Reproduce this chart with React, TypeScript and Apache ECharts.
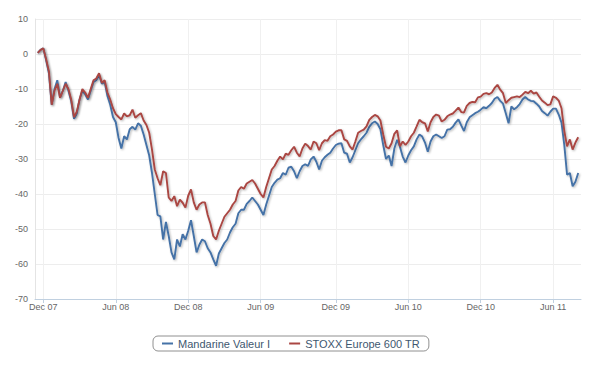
import React, { useEffect, useRef } from "react";
import * as echarts from "echarts";

// weekly observations (Friday closes), first/last category are empty padding weeks
const firstWeek = "2007-11-09";
const weekCount = 197;

const tickDates = ["2007-12-01", "2008-06-01", "2008-12-01", "2009-06-01", "2009-12-01", "2010-06-01", "2010-12-01", "2011-06-01"];
const tickLabels = ["Dec 07", "Jun 08", "Dec 08", "Jun 09", "Dec 09", "Jun 10", "Dec 10", "Jun 11"];

const yMin = -70;
const yMax = 10;
const yStep = 10;

const seriesNames = ["Mandarine Valeur I", "STOXX Europe 600 TR"];

const mandarine = [
  0.3, 1.2, 1.6, -1.8, -5.5, -14.5, -10.0, -7.5, -12.5, -10.5,
  -8.0, -10.5, -13.5, -18.5, -17.0, -13.0, -10.5, -11.5, -13.0, -10.5,
  -8.0, -7.5, -6.0, -8.5, -8.0, -12.0, -14.5, -18.0, -19.5, -24.0,
  -27.0, -23.5, -24.4, -21.5, -20.8, -21.6, -19.8, -20.5, -23.0, -26.0,
  -29.0, -34.0, -40.0, -46.0, -46.4, -53.0, -48.0, -52.0, -56.7, -58.7,
  -53.0, -55.0, -51.5, -53.0, -50.5, -47.5, -52.0, -56.7, -54.5, -53.0,
  -53.5, -55.5, -56.7, -58.7, -60.5, -57.0, -55.5, -54.0, -53.0, -51.0,
  -49.5, -48.5, -45.5, -44.5, -44.5, -42.8, -42.0, -41.0, -42.0, -43.0,
  -44.5, -46.0, -43.0, -40.5, -38.0, -36.8, -35.9, -35.5, -34.0, -34.5,
  -32.5, -32.2, -33.5, -35.5, -33.5, -32.0, -31.5, -32.0, -30.1, -29.3,
  -30.8, -33.0, -30.5, -29.5, -28.8, -28.2, -27.0, -26.0, -25.6, -25.5,
  -28.2, -28.5, -31.0, -29.5, -27.5, -25.5, -24.4, -23.5, -22.5, -20.8,
  -19.8, -19.3, -20.0, -21.5, -26.0, -30.0, -29.0, -32.0, -27.0, -24.5,
  -26.5, -29.3, -31.0, -29.0, -27.5, -26.4, -24.4, -23.0, -23.6, -25.3,
  -27.9, -25.0, -23.5, -23.0, -23.5, -24.0, -23.5, -21.6, -21.5, -20.8,
  -19.6, -18.7, -20.4, -22.0, -19.5, -18.1, -17.5, -16.9, -16.5, -15.9,
  -15.2, -15.5, -14.8, -14.0, -12.8, -12.3, -13.4, -14.2, -16.9, -19.8,
  -15.0, -15.8, -15.2, -14.3, -13.0, -12.3, -13.0, -13.4, -13.5, -14.2,
  -15.0, -16.3, -16.9, -17.6, -16.5, -15.6, -15.6, -17.3, -19.6, -26.0,
  -34.5, -34.0, -37.8, -36.5, -34.0,
];

const stoxx = [
  0.3, 1.2, 1.6, -1.5, -5.0, -14.5, -10.5, -8.5, -12.5, -10.5,
  -8.5, -10.0, -13.0, -18.0, -16.5, -13.0, -10.0, -11.0, -12.5, -10.0,
  -7.5, -7.0, -5.5, -8.2, -7.5, -11.0, -13.0, -15.5, -17.2, -18.0,
  -18.7, -17.0, -17.8, -17.5, -15.9, -18.2, -17.5, -16.9, -19.0, -20.3,
  -22.5, -27.3, -33.0, -35.5, -37.5, -33.5, -34.0, -41.0, -42.0, -40.6,
  -43.5, -41.6, -42.5, -43.9, -40.5, -38.7, -42.4, -44.5, -43.0, -42.4,
  -42.4, -46.0, -48.5, -52.0, -53.0, -50.5, -48.5, -46.5, -45.5, -44.5,
  -43.0, -42.0, -39.0, -38.0, -38.5, -37.0, -36.5, -36.0, -37.0, -38.5,
  -40.0, -41.0, -38.0, -35.5, -33.0, -32.0, -30.5, -29.3, -30.1, -28.5,
  -28.8, -27.5, -26.5, -28.2, -29.3, -27.0, -25.6, -26.3, -27.3, -25.0,
  -25.5, -27.5, -25.5, -24.6, -24.8, -23.5, -23.0, -22.2, -21.8, -21.8,
  -24.4, -24.8, -26.4, -27.3, -25.0, -22.5, -22.0, -21.6, -20.7, -18.8,
  -18.0, -17.4, -17.8, -19.0, -23.0, -26.5, -27.0, -25.5, -22.8, -21.8,
  -26.4, -25.0, -26.0, -25.0, -23.5, -22.5, -20.7, -18.8, -19.5, -19.8,
  -22.1, -19.5, -18.0, -17.3, -17.6, -19.3, -18.8, -17.8, -17.3, -17.0,
  -16.2, -15.3, -16.6, -16.7, -14.8, -14.0, -13.7, -13.8, -12.4, -12.2,
  -11.4, -11.2, -11.5, -11.0, -9.7, -8.8, -10.2, -11.2, -14.0, -13.2,
  -12.5, -12.3, -12.1, -12.3, -11.6, -10.8, -11.2, -10.5, -11.3, -11.0,
  -12.2, -13.3, -13.9, -14.6, -14.4, -12.1, -12.5, -13.3, -15.5, -22.0,
  -26.4, -24.4, -27.3, -25.3, -23.8,
];

const colors = ["#4572A7", "#AA4643"];
const DAY = 86400000;

export default function App() {
  const ref = useRef<HTMLDivElement>(null);

  useEffect(() => {
    if (!ref.current) return;
    const chart = echarts.init(ref.current, null, { renderer: "svg" });

    const start = Date.parse(firstWeek + "T00:00:00Z");
    const categories: string[] = [];
    for (let i = 0; i < weekCount; i++) {
      categories.push(new Date(start + i * 7 * DAY).toISOString().slice(0, 10));
    }
    const tickIndex: Record<number, string> = {};
    tickDates.forEach((d, i) => {
      const idx = Math.round((Date.parse(d + "T00:00:00Z") - start) / (7 * DAY));
      tickIndex[idx] = tickLabels[i];
    });
    const isTick = (idx: number) => tickIndex[idx] !== undefined;

    const pad = (arr: number[]) => [null, ...arr, null];
    const font = "Arial, 'Liberation Sans', sans-serif";

    chart.setOption({
      animation: false,
      color: colors,
      grid: { left: 35, right: 19, top: 19, bottom: 66, containLabel: false },
      legend: {
        data: seriesNames,
        left: 153,
        top: 336,
        padding: [2, 9],
        itemGap: 19,
        itemWidth: 11,
        itemHeight: 2,
        itemTextGap: 7,
        icon: "rect",
        borderColor: "#909090",
        borderWidth: 1,
        borderRadius: 5,
        textStyle: { fontSize: 11, color: "#3E576F", fontFamily: font },
      },
      xAxis: {
        type: "category",
        boundaryGap: false,
        data: categories,
        axisLine: { show: true, onZero: false, lineStyle: { color: "#C0D0E0", width: 1 } },
        axisTick: {
          show: true,
          interval: (idx: number) => isTick(idx),
          length: 4,
          lineStyle: { color: "#C0D0E0" },
        },
        splitLine: {
          show: true,
          interval: (idx: number) => isTick(idx),
          lineStyle: { color: "#F0F0F0", width: 1 },
        },
        axisLabel: {
          interval: (idx: number) => isTick(idx),
          formatter: (_v: string, idx: number) => tickIndex[idx] ?? "",
          color: "#666",
          fontSize: 9,
          fontFamily: font,
          margin: 3,
        },
      },
      yAxis: {
        type: "value",
        min: yMin,
        max: yMax,
        interval: yStep,
        axisLine: { show: true, lineStyle: { color: "#E4E4E4" } },
        axisTick: { show: false },
        splitLine: { show: true, lineStyle: { color: "#EDEDED", width: 1 } },
        axisLabel: {
          color: "#666",
          fontSize: 9,
          fontFamily: font,
          margin: 7,
          padding: [0, 0, 5, 0],
        },
      },
      series: [mandarine, stoxx].map((vals, i) => ({
        name: seriesNames[i],
        type: "line",
        data: pad(vals),
        showSymbol: false,
        symbol: "none",
        connectNulls: false,
        lineStyle: {
          width: 1.9,
          color: colors[i],
          shadowColor: "rgba(0,0,0,0.3)",
          shadowBlur: 2,
          shadowOffsetX: 1,
          shadowOffsetY: 1,
        },
        emphasis: { disabled: true },
      })),
    });

    return () => chart.dispose();
  }, []);

  return (
    <div
      ref={ref}
      style={{ position: "fixed", left: 0, top: 0, width: 600, height: 365, background: "#fff" }}
    />
  );
}
